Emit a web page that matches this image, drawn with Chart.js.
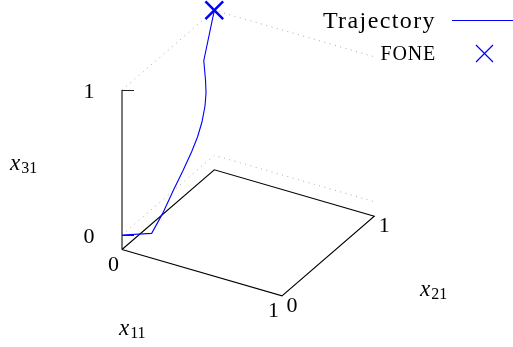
<!DOCTYPE html>
<html lang="en">
<head>
  <meta charset="UTF-8" />
  <title>Trajectory</title>
  <style>
    body { margin: 0; background: #ffffff; }
    canvas { display: block; }
  </style>
</head>
<body>
  <canvas id="chart" width="513" height="347"></canvas>

  <script src="https://cdn.jsdelivr.net/npm/chart.js"></script>
  <script>
    // axis ticks and ranges
    const x11Ticks = [0, 1];
    const x21Ticks = [0, 1];
    const x31Ticks = [0, 1];
    const x31Min = -0.1;

    // trajectory (x11, x21, x31)
    const trajX11 = [0, 0.13, 0.125, 0.115, 0.10, 0.085, 0.07, 0.055, 0.04, 0.025, 0.012, 0, 0];
    const trajX21 = [0, 0.096, 0.224, 0.356, 0.488, 0.606, 0.697, 0.771, 0.830, 0.867, 0.884, 0.886, 1];
    const trajX31 = [0, 0, 0.066, 0.148, 0.209, 0.267, 0.315, 0.373, 0.446, 0.511, 0.587, 0.715, 1];

    // FONE point
    const foneX11 = [0];
    const foneX21 = [1];
    const foneX31 = [1];

    // view: screen offset of the origin and of one unit along each axis
    const view = { ox: 122, oy: 235, a: [160, 46.4], b: [92.3, -79.7], c: [0, -145] };
    function proj(a, b, c) {
      return {
        x: view.ox + view.a[0] * a + view.b[0] * b + view.c[0] * c,
        y: view.oy + view.a[1] * a + view.b[1] * b + view.c[1] * c
      };
    }

    const aLo = x11Ticks[0], aHi = x11Ticks[x11Ticks.length - 1];
    const bLo = x21Ticks[0], bHi = x21Ticks[x21Ticks.length - 1];
    const cHi = x31Ticks[x31Ticks.length - 1];

    const boxPts = [[aLo, bLo], [aHi, bLo], [aHi, bHi], [aLo, bHi], [aLo, bLo]]
      .map(p => proj(p[0], p[1], x31Min));

    const gridSets = x31Ticks.map(t => ({
      data: [proj(aLo, bLo, t), proj(aLo, bHi, t), proj(aHi, bHi, t)],
      showLine: true, pointRadius: 0, borderColor: '#a8a8a8', borderWidth: 1,
      borderDash: [1, 4.5], order: 5
    }));

    const trajPts = trajX11.map((a, i) => proj(a, trajX21[i], trajX31[i]));
    const fonePts = foneX11.map((a, i) => proj(a, foneX21[i], foneX31[i]));

    function drawSub(ctx, x, y, main, sub) {
      ctx.font = 'italic 23px "Liberation Serif"';
      ctx.textAlign = 'left';
      ctx.textBaseline = 'alphabetic';
      ctx.fillText(main, x, y);
      const w = ctx.measureText(main).width;
      ctx.font = '16px "Liberation Serif"';
      ctx.fillText(sub, x + w + 1, y + 3);
    }

    const textPlugin = {
      id: 'text3d',
      afterDraw(chart) {
        const ctx = chart.ctx;
        const sx = chart.scales.x, sy = chart.scales.y;
        const pix = p => [sx.getPixelForValue(p.x), sy.getPixelForValue(p.y)];
        ctx.save();
        ctx.fillStyle = '#000';

        // z tick mark
        x31Ticks.forEach(t => {
          const [x, y] = pix(proj(aLo, bLo, t));
          ctx.strokeStyle = '#222';
          ctx.lineWidth = 1;
          ctx.beginPath();
          ctx.moveTo(x, y + 0.5);
          ctx.lineTo(x + 12, y + 0.5);
          ctx.stroke();
        });

        // tick labels
        ctx.font = '22px "Liberation Serif"';
        ctx.textAlign = 'center';
        ctx.textBaseline = 'alphabetic';
        x31Ticks.forEach(t => {
          const [x, y] = pix(proj(aLo, bLo, t));
          ctx.fillText(String(t), x - 33, y + 8);
        });
        x11Ticks.forEach(t => {
          const [x, y] = pix(proj(t, bLo, x31Min));
          ctx.fillText(String(t), x - 8.5, y + 21);
        });
        x21Ticks.forEach(t => {
          const [x, y] = pix(proj(aHi, t, x31Min));
          ctx.fillText(String(t), x + 10, y + 16);
        });

        // axis labels
        drawSub(ctx, 119, 335, 'x', '11');
        drawSub(ctx, 420, 296, 'x', '21');
        drawSub(ctx, 10, 170, 'x', '31');

        // legend
        ctx.textAlign = 'right';
        ctx.font = '24px "Liberation Serif"';
        ctx.letterSpacing = '1.4px';
        ctx.fillText('Trajectory', 436, 28);
        ctx.font = '20px "Liberation Serif"';
        ctx.letterSpacing = '0.8px';
        ctx.fillText('FONE', 436, 60);
        ctx.letterSpacing = '0px';
        ctx.strokeStyle = '#0000ff';
        ctx.lineWidth = 1.2;
        ctx.beginPath();
        ctx.moveTo(452, 20.5);
        ctx.lineTo(513, 20.5);
        ctx.stroke();
        ctx.beginPath();
        ctx.moveTo(476, 45); ctx.lineTo(493, 62);
        ctx.moveTo(493, 45); ctx.lineTo(476, 62);
        ctx.stroke();
        ctx.restore();
      }
    };

    new Chart(document.getElementById('chart'), {
      type: 'scatter',
      data: {
        datasets: [
          {
            label: 'FONE',
            data: fonePts,
            pointStyle: 'crossRot', pointRadius: 12.5, borderWidth: 2.5,
            borderColor: '#0000ff', backgroundColor: '#0000ff', order: 0
          },
          {
            label: 'Trajectory',
            data: trajPts,
            showLine: true, pointRadius: 0, borderColor: '#0000ff', borderWidth: 1.1,
            tension: 0, order: 1
          },
          {
            label: 'box',
            data: boxPts,
            showLine: true, pointRadius: 0, borderColor: '#000', borderWidth: 1.1, order: 2
          },
          {
            label: 'zaxis',
            data: [proj(aLo, bLo, x31Min), proj(aLo, bLo, cHi)],
            showLine: true, pointRadius: 0, borderColor: '#7a7a7a', borderWidth: 2, order: 3
          },
          ...gridSets
        ]
      },
      options: {
        responsive: false,
        animation: false,
        devicePixelRatio: 1,
        layout: { padding: 0, autoPadding: false },
        plugins: { legend: { display: false }, tooltip: { enabled: false } },
        scales: {
          x: { type: 'linear', display: false, min: 0, max: 513 },
          y: { type: 'linear', display: false, min: 0, max: 347, reverse: true }
        }
      },
      plugins: [textPlugin]
    });
  </script>
</body>
</html>
